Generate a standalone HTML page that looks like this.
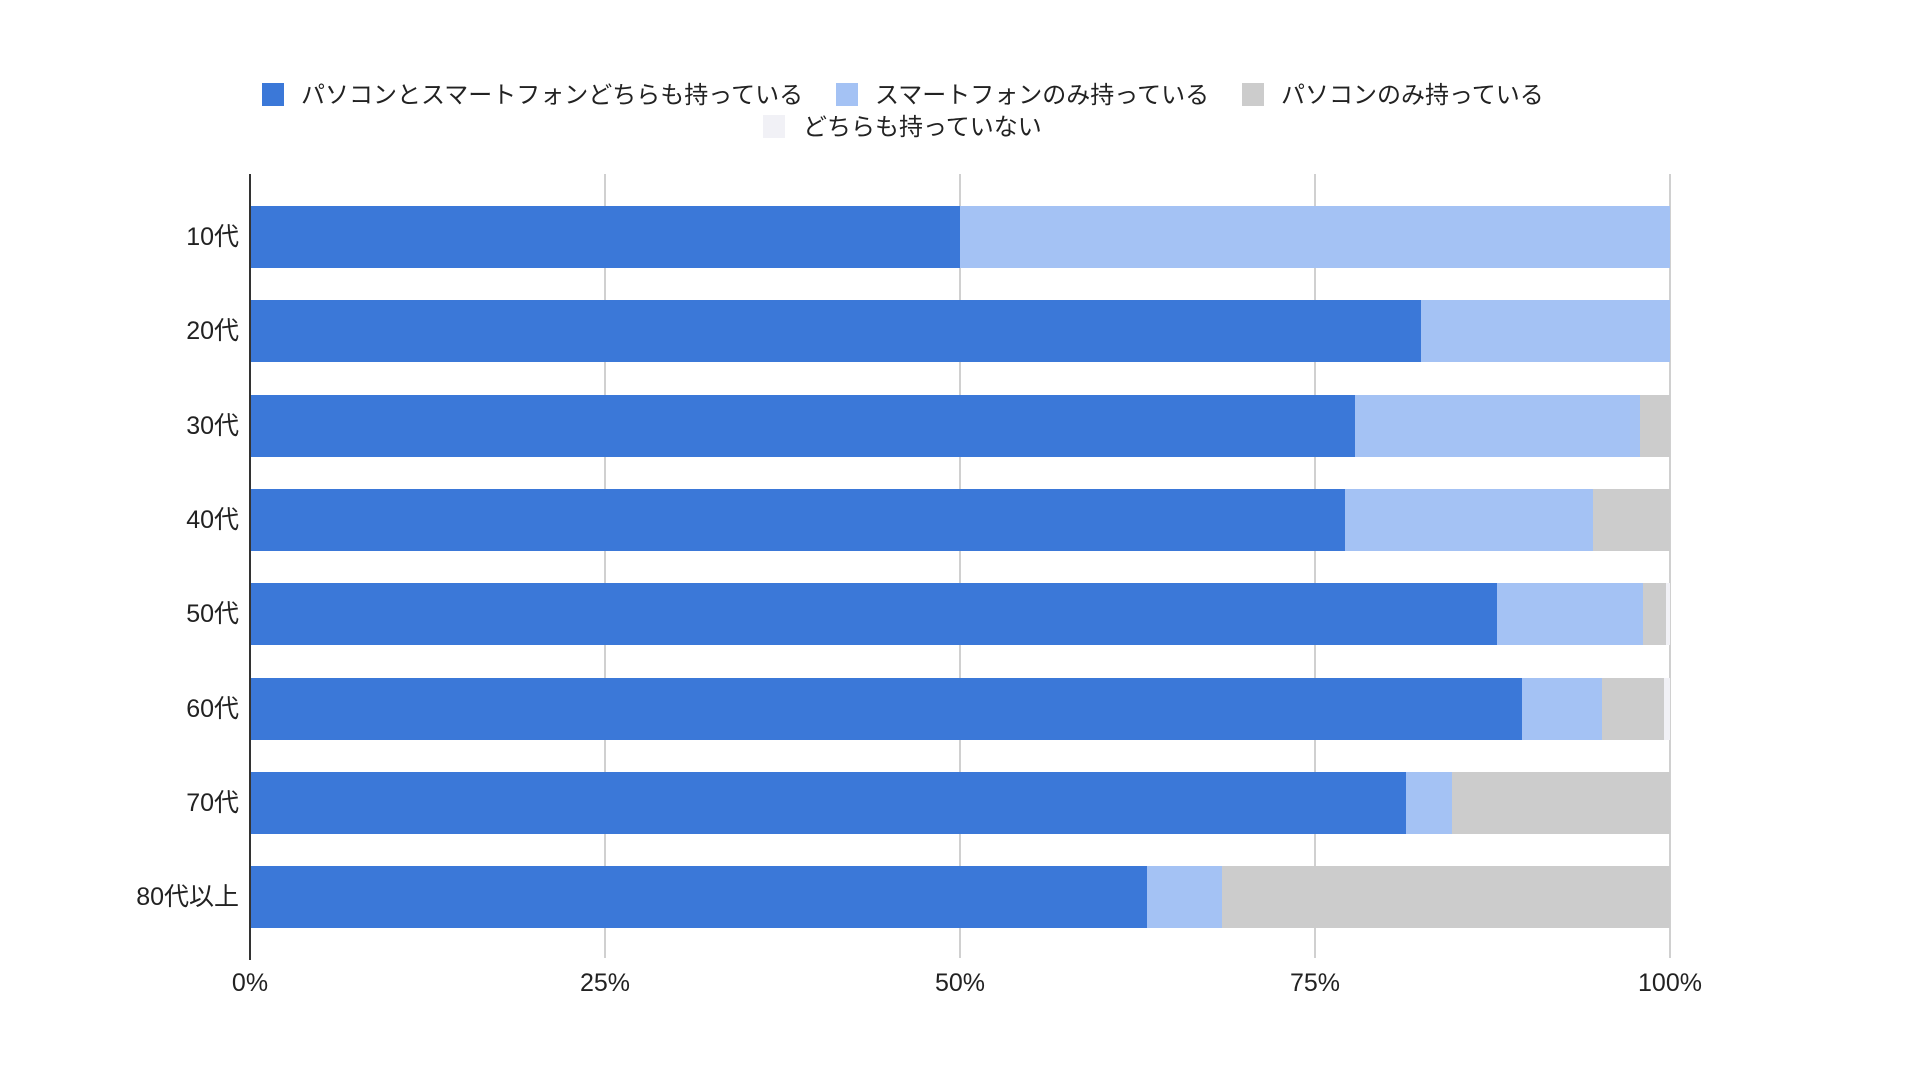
<!DOCTYPE html>
<html><head><meta charset="utf-8"><style>
body{margin:0;background:#fff;}
svg text{font-family:"Liberation Sans","Noto Sans CJK JP",sans-serif;fill:#222;}
</style></head><body>
<svg width="1921" height="1080" xmlns="http://www.w3.org/2000/svg">
<rect width="1921" height="1080" fill="#fff"/>
<g font-size="24">
<rect x="262" y="83" width="22" height="23" fill="#3b78d8"/>
<text x="301" y="103">パソコンとスマートフォンどちらも持っている</text>
<rect x="836" y="83" width="22" height="23" fill="#a4c2f4"/>
<text x="875" y="103">スマートフォンのみ持っている</text>
<rect x="1242" y="83" width="22" height="23" fill="#cccccc"/>
<text x="1281" y="103">パソコンのみ持っている</text>
<rect x="763" y="115" width="22" height="23" fill="#f1f1f6"/>
<text x="803" y="135">どちらも持っていない</text>
</g>
<g stroke="#d0d0d0" stroke-width="2">
<line x1="605" y1="174" x2="605" y2="958"/>
<line x1="960" y1="174" x2="960" y2="958"/>
<line x1="1315" y1="174" x2="1315" y2="958"/>
<line x1="1670" y1="174" x2="1670" y2="958"/>
</g>
<g font-size="25" text-anchor="middle">
<text x="250" y="991">0%</text>
<text x="605" y="991">25%</text>
<text x="960" y="991">50%</text>
<text x="1315" y="991">75%</text>
<text x="1670" y="991">100%</text>
</g>
<g font-size="25" text-anchor="end">
<text x="239" y="245">10代</text>
<text x="239" y="339">20代</text>
<text x="239" y="434">30代</text>
<text x="239" y="528">40代</text>
<text x="239" y="622">50代</text>
<text x="239" y="717">60代</text>
<text x="239" y="811">70代</text>
<text x="239" y="905">80代以上</text>
</g>
<g>
<rect x="250" y="206" width="710" height="62" fill="#3b78d8"/>
<rect x="960" y="206" width="710" height="62" fill="#a4c2f4"/>

<rect x="250" y="300" width="1171" height="62" fill="#3b78d8"/>
<rect x="1421" y="300" width="249" height="62" fill="#a4c2f4"/>

<rect x="250" y="395" width="1105" height="62" fill="#3b78d8"/>
<rect x="1355" y="395" width="285" height="62" fill="#a4c2f4"/>
<rect x="1640" y="395" width="30" height="62" fill="#cccccc"/>

<rect x="250" y="489" width="1095" height="62" fill="#3b78d8"/>
<rect x="1345" y="489" width="248" height="62" fill="#a4c2f4"/>
<rect x="1593" y="489" width="77" height="62" fill="#cccccc"/>

<rect x="250" y="583" width="1247" height="62" fill="#3b78d8"/>
<rect x="1497" y="583" width="146" height="62" fill="#a4c2f4"/>
<rect x="1643" y="583" width="23" height="62" fill="#cccccc"/>
<rect x="1666" y="583" width="4" height="62" fill="#f1f1f6"/>

<rect x="250" y="678" width="1272" height="62" fill="#3b78d8"/>
<rect x="1522" y="678" width="80" height="62" fill="#a4c2f4"/>
<rect x="1602" y="678" width="62" height="62" fill="#cccccc"/>
<rect x="1664" y="678" width="6" height="62" fill="#f1f1f6"/>

<rect x="250" y="772" width="1156" height="62" fill="#3b78d8"/>
<rect x="1406" y="772" width="46" height="62" fill="#a4c2f4"/>
<rect x="1452" y="772" width="218" height="62" fill="#cccccc"/>

<rect x="250" y="866" width="897" height="62" fill="#3b78d8"/>
<rect x="1147" y="866" width="75" height="62" fill="#a4c2f4"/>
<rect x="1222" y="866" width="448" height="62" fill="#cccccc"/>
</g>
<line x1="250" y1="174" x2="250" y2="960" stroke="#333" stroke-width="2"/>
</svg>
</body></html>
